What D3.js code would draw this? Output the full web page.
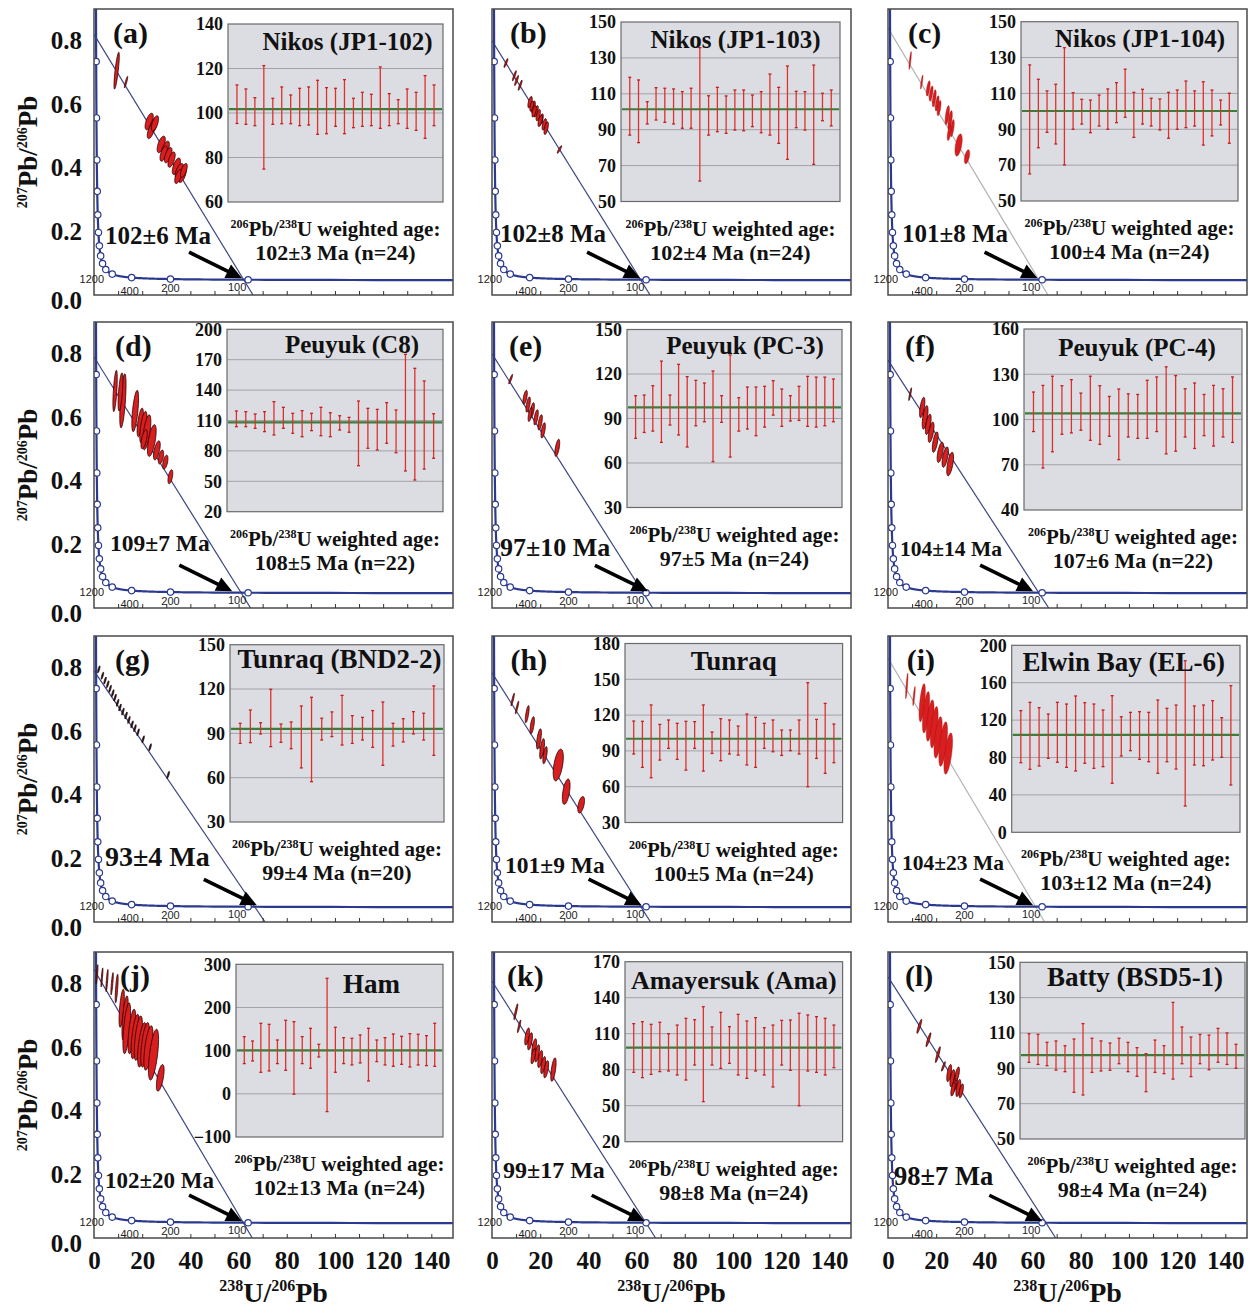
<!DOCTYPE html>
<html><head><meta charset="utf-8">
<script src="https://cdn.jsdelivr.net/npm/d3@7/dist/d3.min.js"></script>
<style>body{margin:0;background:#fff}</style>
</head><body>
<svg id="c" width="1252" height="1315" xmlns="http://www.w3.org/2000/svg"></svg>
<script>
// ---------------- DATA ----------------
const panelLetters = ["(a)","(b)","(c)","(d)","(e)","(f)","(g)","(h)","(i)","(j)","(k)","(l)"];
const sampleNames = ["Nikos (JP1-102)","Nikos (JP1-103)","Nikos (JP1-104)","Peuyuk (C8)","Peuyuk (PC-3)","Peuyuk (PC-4)",
  "Tunraq (BND2-2)","Tunraq","Elwin Bay (EL-6)","Ham","Amayersuk (Ama)","Batty (BSD5-1)"];
const interceptLabels = ["102±6 Ma","102±8 Ma","101±8 Ma","109±7 Ma","97±10 Ma","104±14 Ma","93±4 Ma","101±9 Ma","104±23 Ma","102±20 Ma","99±17 Ma","98±7 Ma"];
const interceptAges = [102,102,101,109,97,104,93,101,104,102,99,98];
const weightedLabels = ["102±3 Ma (n=24)","102±4 Ma (n=24)","100±4 Ma (n=24)","108±5 Ma (n=22)","97±5 Ma (n=24)","107±6 Ma (n=22)",
  "99±4 Ma (n=20)","100±5 Ma (n=24)","103±12 Ma (n=24)","102±13 Ma (n=24)","98±8 Ma (n=24)","98±4 Ma (n=24)"];
const weightedMeans = [101.7,101.4,100.2,108.2,97.5,104.1,93.0,100.2,104.1,100.8,98.4,97.5];
// discordia: 207Pb/206Pb at 238U/206Pb = 0, and 238U/206Pb where it reaches 0
const discordiaY0 = [0.82,0.80,0.84,0.79,0.80,0.78,0.79,0.784,0.83,0.845,0.808,0.822];
const discordiaXEnd = [66,65.6,66.4,65,66.7,66.7,71,65.8,65,65.7,67.9,69.6];

const xTicks = [0,20,40,60,80,100,120,140];
const xMinorTicks = [10,20,30,40,50,60,70,80,90,100,110,120,130,140];
const yTicks = [0,0.2,0.4,0.6,0.8];
const concordiaAgesMa = [100,200,400,800,1200,1600,2000,2400,2800,3200,3600,4000,4400,4800];
const concordiaLabelAges = [1200,400,200,100];

const insetTicksA = [60,80,100,120,140];
const insetTicksB = [50,70,90,110,130,150];
const insetTicksC = [50,70,90,110,130,150];
const insetTicksD = [20,50,80,110,140,170,200];
const insetTicksE = [30,60,90,120,150];
const insetTicksF = [40,70,100,130,160];
const insetTicksG = [30,60,90,120,150];
const insetTicksH = [30,60,90,120,150,180];
const insetTicksI = [0,40,80,120,160,200];
const insetTicksJ = [-100,0,100,200,300];
const insetTicksK = [20,50,80,110,140,170];
const insetTicksL = [50,70,90,110,130,150];

// 206Pb/238U ages: [low, high] (Ma)
const barsA = [[95.3,112.6],[94.9,110.8],[94.3,106.9],[74.8,121.3],[94.9,106.6],[95.2,111.7],[95.2,108.1],[94.3,111.1],[94.6,111.7],[90.4,114.7],[90.7,111.4],[94.0,111.1],[90.7,115.0],[93.4,106.6],[94.0,109.3],[94.3,108.4],[93.1,120.7],[94.3,108.7],[95.2,106.0],[93.1,110.8],[92.2,109.3],[88.6,116.8],[94.3,112.6]];
const barsB = [[87.0,119.2],[82.8,117.7],[93.2,105.6],[95.4,113.4],[94.1,113.1],[93.2,112.7],[90.8,111.2],[90.8,113.1],[61.4,135.7],[87.0,108.9],[88.9,113.6],[88.0,108.8],[89.8,112.1],[89.4,112.1],[91.7,109.3],[88.3,111.2],[87.0,121.0],[82.4,113.6],[73.5,125.5],[91.1,111.4],[89.8,111.2],[70.7,126.0],[95.0,110.3],[92.1,112.1]];
const barsC = [[65.1,125.9],[79.7,117.9],[88.3,111.4],[81.8,115.1],[70.1,135.5],[90.0,110.4],[92.9,106.7],[88.1,106.3],[91.8,109.1],[90.0,112.5],[93.7,116.0],[96.7,123.5],[85.5,110.6],[92.9,112.3],[91.8,107.3],[89.6,106.9],[85.0,110.6],[90.0,111.9],[90.9,116.9],[91.8,111.4],[81.2,116.5],[86.3,111.9],[92.4,106.3],[82.2,110.1]];
const barsD = [[103.9,119.4],[103.9,118.7],[102.3,116.4],[99.0,118.7],[95.7,128.6],[102.3,123.0],[97.4,117.1],[94.0,119.7],[100.0,117.1],[95.0,123.0],[94.0,117.7],[100.6,114.7],[98.4,113.1],[65.4,129.2],[82.6,122.0],[80.9,121.0],[87.5,127.6],[78.2,120.4],[60.2,175.3],[51.3,161.5],[62.1,149.0],[72.7,116.7]];
const barsE = [[76.6,105.4],[80.6,105.8],[81.5,112.1],[73.9,128.7],[85.6,105.8],[78.9,126.5],[70.8,118.2],[85.1,115.7],[87.8,113.9],[60.9,122.0],[87.4,105.4],[64.0,132.8],[81.5,104.0],[82.9,111.2],[78.4,111.2],[84.2,111.7],[92.3,115.5],[84.7,109.9],[88.3,105.4],[88.7,111.7],[84.7,118.4],[84.2,117.9],[85.1,117.9],[87.8,116.6]];
const barsF = [[92.0,118.2],[67.8,122.6],[78.6,128.7],[90.2,122.4],[91.1,126.4],[92.9,117.5],[86.2,128.7],[83.5,122.4],[88.9,115.3],[73.4,120.2],[88.4,117.0],[87.5,116.6],[87.5,126.0],[92.0,128.2],[77.2,134.9],[79.0,129.1],[88.4,120.4],[80.8,124.2],[89.3,116.6],[82.4,122.6],[88.4,120.4],[84.8,128.2]];
const barsG = [[83.2,96.8],[83.7,105.8],[89.6,97.2],[81.0,119.8],[83.9,96.3],[79.6,97.7],[66.6,108.5],[57.3,114.4],[85.5,100.2],[87.8,104.5],[82.1,115.7],[83.2,102.0],[85.5,100.8],[80.5,105.4],[68.4,111.2],[81.4,96.8],[84.2,99.9],[89.6,104.7],[85.5,103.6],[75.1,122.1]];
const barsH = [[87.4,115.0],[76.2,114.8],[67.5,128.5],[82.3,112.2],[92.1,115.9],[82.9,113.1],[73.9,114.8],[92.1,114.5],[73.1,128.5],[87.9,105.8],[81.8,117.0],[87.4,115.9],[86.5,110.8],[78.2,120.9],[76.2,118.1],[92.1,113.1],[89.3,115.9],[86.2,107.5],[90.2,107.5],[87.4,115.9],[60.0,147.2],[83.7,116.4],[71.2,129.8],[80.1,112.5]];
const barsI = [[74.4,130.1],[67.4,139.0],[70.9,133.3],[79.1,126.5],[74.9,139.0],[69.5,137.2],[65.6,145.8],[73.8,138.6],[68.4,137.2],[70.2,130.8],[52.4,146.1],[81.6,123.6],[87.3,128.3],[78.1,129.0],[75.5,128.3],[63.1,141.5],[75.5,132.6],[67.7,136.1],[28.1,183.5],[72.0,135.1],[71.2,136.1],[77.3,140.8],[80.2,122.6],[50.6,156.8]];
const barsJ = [[70.0,132.5],[76.1,122.4],[49.9,163.3],[53.0,161.0],[70.0,124.7],[54.5,170.3],[-1.0,167.2],[70.0,132.5],[59.2,151.7],[85.4,114.7],[-41.2,267.5],[49.9,154.1],[70.0,130.1],[66.9,128.6],[71.5,136.3],[29.8,151.7],[74.6,124.7],[66.9,130.1],[63.8,138.6],[68.4,133.2],[62.2,139.4],[66.9,137.9],[65.3,134.8],[63.8,163.3]];
const barsK = [[77.8,118.4],[73.4,120.0],[76.1,117.8],[78.4,119.5],[78.9,110.0],[75.6,117.2],[71.4,122.8],[83.9,121.7],[53.4,132.5],[83.9,115.6],[81.1,127.8],[85.3,115.9],[75.6,126.1],[72.8,120.6],[78.9,123.4],[75.6,115.0],[65.6,117.2],[83.9,121.1],[79.5,121.4],[50.0,127.0],[78.9,125.6],[77.8,124.2],[75.6,122.8],[81.7,117.2]];
const barsL = [[93.4,109.6],[92.2,109.2],[91.5,104.7],[89.0,105.5],[88.1,102.8],[76.4,106.6],[74.9,115.3],[87.7,107.0],[88.5,105.5],[88.9,104.3],[92.6,107.0],[88.1,104.7],[85.5,101.7],[76.8,98.3],[87.7,106.0],[87.0,102.8],[83.9,127.3],[92.6,113.4],[85.3,107.7],[92.6,109.2],[89.2,108.8],[93.4,112.6],[92.2,110.0],[90.0,103.6]];

// error ellipses: [238U/206Pb, 207Pb/206Pb, err x, err y, rho]
const ellA = [[9.4,0.706,1.1,0.058,0.8],[13.3,0.67,0.7,0.018,0.9],[22.9,0.546,1.7,0.026,0.6],[24.6,0.532,1.7,0.026,0.6],[23.6,0.516,1.5,0.024,0.6],[25.3,0.540,1.5,0.024,0.6],[27.9,0.474,1.7,0.026,0.6],[29.6,0.458,1.7,0.026,0.6],[28.9,0.445,1.5,0.024,0.6],[30.8,0.440,1.6,0.024,0.6],[32.2,0.426,1.5,0.024,0.6],[34.2,0.405,1.7,0.026,0.6],[35.4,0.390,1.7,0.024,0.6],[36.7,0.378,1.6,0.024,0.6],[35.0,0.373,1.5,0.022,0.6],[37.3,0.392,1.4,0.022,0.6]];
const ellB = [[5.8,0.73,0.8,0.014,0.9],[9.3,0.69,0.8,0.016,0.9],[10.2,0.675,0.8,0.016,0.9],[11.7,0.66,0.8,0.016,0.9],[15.8,0.607,0.9,0.018,0.6],[17.1,0.592,0.9,0.018,0.6],[18.3,0.578,0.9,0.018,0.6],[19.2,0.566,0.9,0.018,0.6],[20.4,0.552,0.9,0.018,0.6],[21.7,0.537,0.9,0.018,0.6],[22.5,0.525,0.9,0.02,0.6],[17.5,0.578,0.9,0.018,0.6],[20.0,0.548,0.9,0.018,0.6],[16.5,0.595,0.8,0.016,0.6],[28.0,0.458,0.9,0.012,0.9]];
const ellC = [[9.2,0.738,0.5,0.028,0.8],[14.0,0.67,0.5,0.022,0.8],[16.7,0.65,0.8,0.024,0.6],[17.9,0.634,0.8,0.024,0.6],[19.2,0.619,0.8,0.027,0.6],[20.4,0.603,0.8,0.024,0.6],[21.2,0.588,0.8,0.024,0.6],[24.6,0.566,0.9,0.03,0.6],[25.8,0.55,0.9,0.03,0.6],[26.7,0.525,0.8,0.027,0.6],[25.4,0.51,0.8,0.024,0.6],[29.3,0.472,1.5,0.035,0.5],[32.8,0.435,1.1,0.022,0.5]];
const ellD = [[8.75,0.683,0.9,0.065,0.6],[12.0,0.652,1.3,0.085,0.6],[11.0,0.68,1.0,0.06,0.6],[17.1,0.62,1.4,0.065,0.6],[19.2,0.584,1.3,0.045,0.6],[20.5,0.569,1.5,0.05,0.6],[21.9,0.553,1.7,0.055,0.6],[20.8,0.531,1.3,0.03,0.6],[24.0,0.527,1.8,0.05,0.6],[26.1,0.496,1.4,0.03,0.6],[27.8,0.475,1.1,0.022,0.5],[29.6,0.459,1.1,0.022,0.5],[31.7,0.413,1.0,0.022,0.5]];
const ellE = [[7.75,0.72,0.8,0.015,0.9],[13.75,0.663,0.9,0.022,0.6],[15.0,0.64,0.9,0.024,0.6],[16.7,0.622,0.9,0.024,0.6],[18.3,0.60,0.9,0.024,0.6],[20.0,0.584,0.9,0.024,0.6],[21.25,0.559,0.9,0.024,0.6],[15.8,0.609,0.8,0.022,0.6],[27.1,0.504,1.0,0.027,0.6]];
const ellF = [[9.2,0.673,0.6,0.02,0.9],[14.2,0.631,1.1,0.032,0.6],[15.4,0.60,1.2,0.037,0.6],[16.7,0.578,1.2,0.032,0.6],[17.9,0.553,1.2,0.032,0.6],[19.6,0.522,1.2,0.032,0.6],[21.7,0.49,1.3,0.032,0.6],[23.75,0.475,1.3,0.032,0.6],[25.8,0.453,1.4,0.037,0.6]];
const ellG = [[2.0,0.795,0.5,0.011,0.8],[3.5,0.775,0.5,0.011,0.8],[4.6,0.76,0.5,0.011,0.8],[5.7,0.748,0.5,0.011,0.8],[6.7,0.734,0.5,0.011,0.8],[7.8,0.72,0.5,0.011,0.8],[8.75,0.706,0.5,0.011,0.8],[9.8,0.69,0.5,0.011,0.8],[10.8,0.675,0.5,0.011,0.8],[12.0,0.662,0.5,0.011,0.8],[13.3,0.65,0.5,0.011,0.8],[14.5,0.636,0.5,0.011,0.8],[15.8,0.622,0.5,0.011,0.8],[17.0,0.61,0.5,0.011,0.8],[18.3,0.597,0.5,0.011,0.8],[20.4,0.575,0.5,0.011,0.8],[23.3,0.55,0.5,0.011,0.8],[30.8,0.463,0.5,0.011,0.8]];
const ellH = [[8.6,0.70,0.7,0.02,0.9],[10.4,0.675,0.7,0.02,0.9],[14.6,0.654,0.8,0.027,0.7],[16.7,0.619,0.9,0.027,0.6],[19.5,0.576,1.0,0.032,0.6],[20.8,0.545,1.0,0.032,0.6],[22.0,0.525,0.9,0.027,0.6],[27.5,0.494,2.1,0.05,0.5],[30.8,0.41,1.6,0.04,0.5],[37.0,0.369,1.4,0.026,0.5]];
const ellI = [[7.8,0.743,0.5,0.04,0.8],[10.8,0.711,0.5,0.03,0.8],[14.2,0.69,1.3,0.06,0.6],[15.8,0.66,1.5,0.065,0.6],[17.5,0.634,1.6,0.065,0.6],[19.2,0.613,1.6,0.065,0.6],[20.8,0.581,1.7,0.065,0.6],[22.9,0.56,1.8,0.07,0.6],[25.0,0.53,1.8,0.065,0.6]];
const ellJ = [[1.25,0.83,0.4,0.03,0.8],[3.3,0.82,0.4,0.03,0.8],[5.4,0.81,0.45,0.035,0.8],[7.5,0.80,0.5,0.035,0.8],[9.4,0.785,0.6,0.045,0.7],[11.5,0.723,1.1,0.06,0.6],[12.9,0.692,1.3,0.07,0.6],[13.6,0.66,1.6,0.08,0.6],[15.7,0.65,1.6,0.07,0.6],[17.1,0.634,1.7,0.07,0.6],[18.4,0.629,1.7,0.07,0.6],[19.9,0.608,1.8,0.07,0.6],[21.2,0.608,1.8,0.07,0.6],[22.6,0.598,1.9,0.07,0.6],[24.7,0.577,2.1,0.08,0.6],[27.5,0.504,1.6,0.042,0.6]];
const ellK = [[9.9,0.712,0.8,0.025,0.9],[11.25,0.666,0.7,0.02,0.9],[14.6,0.634,1.0,0.027,0.6],[15.8,0.619,1.0,0.027,0.6],[17.5,0.60,1.0,0.027,0.6],[18.75,0.581,1.0,0.027,0.6],[20.0,0.563,1.0,0.027,0.6],[21.25,0.544,1.0,0.027,0.6],[22.5,0.531,1.0,0.027,0.6],[17.1,0.572,0.9,0.024,0.6],[25.5,0.53,1.1,0.037,0.6]];
const ellL = [[13.0,0.666,1.0,0.022,0.9],[16.8,0.624,1.0,0.022,0.9],[20.7,0.577,1.0,0.025,0.9],[23.0,0.54,0.8,0.015,0.9],[25.4,0.519,1.0,0.027,0.6],[26.7,0.503,1.0,0.027,0.6],[27.9,0.488,1.0,0.027,0.6],[29.2,0.472,1.0,0.027,0.6],[30.4,0.463,0.9,0.022,0.6],[27.0,0.469,0.9,0.022,0.6],[28.75,0.516,0.9,0.022,0.6]];

// decay constants (per Ma) and 238U/235U for the Tera-Wasserburg concordia
const LAMBDA238 = 1.55125e-4, LAMBDA235 = 9.8485e-4, U238_U235 = 137.88;

// ---------------- LAYOUT ----------------
const barSets = [barsA,barsB,barsC,barsD,barsE,barsF,barsG,barsH,barsI,barsJ,barsK,barsL];
const tickSets = [insetTicksA,insetTicksB,insetTicksC,insetTicksD,insetTicksE,insetTicksF,insetTicksG,insetTicksH,insetTicksI,insetTicksJ,insetTicksK,insetTicksL];
const ellSets = [ellA,ellB,ellC,ellD,ellE,ellF,ellG,ellH,ellI,ellJ,ellK,ellL];

const colLeft = [94,492,888], rowTop = [9,322,636,952], PW = 359, PH = 286;
const insetBoxes = [[134,15,215,178],[129,13,219,179.5],[133,12.7,217,179.3],[133,7.3,216,182.4],[135,7.5,215,178],[136,7,218,181],
  [136,8.7,214,177.3],[133,7.5,217.6,179],[123.7,9.3,228.3,187],[142,12.3,207,172.7],[133,9.7,217.6,180],[132,10.3,225,176.7]];
const titleDx = [12,5,10.5,17,10.5,4,2.5,0,-2,32,0,2.5];
const titleDy = [26,26,25,24,24,27,23,26.5,26,29,27,24];
const titleSize = [25,25,25,25,25,25,27,27,27,27,26,27];
const ageDx = [11,8,14,16,8,12,11,13,14,11,11,6];
const ageDy = [-51,-53,-53,-57,-52,-52,-56,-49,-52,-50,-60,-53];
const ageSize = [25,25,25,23.5,26,21.5,28,23.5,21.5,23,24,26.5];
const letterDx = [19,18,20,21,17,17,21,18.6,18.7,26,15,17];
const greyDiscordia = [2,8];
const darkEllipses = [6];
const concLabelOffset = {1200:[-14,13],400:[-2,17],200:[0,13],100:[-11,11]};

const serif = "'Liberation Serif','Times New Roman',serif";
const BLUE = "#2b3a8f";

function tw(t){ const e8 = Math.exp(LAMBDA238*t)-1, e5 = Math.exp(LAMBDA235*t)-1; return [1/e8, e5/e8/U238_U235]; }
const concordiaCurve = d3.range(30,5400,5).map(tw);

const svg = d3.select("#c");
svg.append("rect").attr("width",1252).attr("height",1315).attr("fill","#fff");

barSets.forEach((bars,i)=>{
  const col = i%3, row = Math.floor(i/3);
  const g = svg.append("g").attr("transform",`translate(${colLeft[col]},${rowTop[row]})`);
  const x = d3.scaleLinear().domain([0,149]).range([0,PW]);
  const y = d3.scaleLinear().domain([0,0.9]).range([PH,0]);

  g.append("clipPath").attr("id","clip"+i).append("rect").attr("width",PW).attr("height",PH);
  const plot = g.append("g").attr("clip-path",`url(#clip${i})`);

  // discordia
  plot.append("line")
    .attr("x1",x(0)).attr("y1",y(discordiaY0[i]))
    .attr("x2",x(discordiaXEnd[i])).attr("y2",y(0))
    .attr("stroke", greyDiscordia.includes(i) ? "#b4b4b4" : "#3d4684")
    .attr("stroke-width",1.2);

  // concordia
  plot.append("path").datum(concordiaCurve)
    .attr("d", d3.line().x(d=>x(d[0])).y(d=>y(d[1])))
    .attr("fill","none").attr("stroke",BLUE).attr("stroke-width",2.2);

  // ellipses
  const ellLine = d3.line().x(d=>x(d[0])).y(d=>y(d[1])).curve(d3.curveLinearClosed);
  const angles = d3.range(0, 2*Math.PI, Math.PI/24);
  const dark = darkEllipses.includes(i), grey = greyDiscordia.includes(i);
  plot.selectAll(".ell").data(ellSets[i]).join("path")
    .attr("d", e => ellLine(angles.map(t => [e[0] + e[2]*Math.cos(t),
       e[1] + e[3]*(e[4]*Math.cos(t) + Math.sqrt(1-e[4]*e[4])*Math.sin(t))])))
    .attr("fill", dark ? "#5a0c0c" : "#d81e1e")
    .attr("stroke", grey ? "#9a1010" : (dark ? "#000" : "#2a0000"))
    .attr("stroke-width", grey ? 0.4 : 0.8);

  // concordia age circles
  plot.selectAll(".cc").data(concordiaAgesMa).join("circle")
    .attr("cx", a => x(tw(a)[0])).attr("cy", a => y(tw(a)[1])).attr("r",3.2)
    .attr("fill","#fff").attr("stroke",BLUE).attr("stroke-width",1.2);

  // frame
  g.append("rect").attr("width",PW).attr("height",PH).attr("fill","none").attr("stroke","#4a4a4a").attr("stroke-width",1.5);
  // minor ticks
  const mt = g.append("g").attr("transform",`translate(0,${PH})`)
    .call(d3.axisBottom(x).tickValues(xMinorTicks).tickSize(-4).tickFormat(""));
  mt.select(".domain").remove();
  mt.selectAll("line").attr("stroke","#333");

  // concordia labels
  g.selectAll(".cl").data(concordiaLabelAges).join("text")
    .attr("x", a => x(tw(a)[0]) + concLabelOffset[a][0])
    .attr("y", a => y(tw(a)[1]) + concLabelOffset[a][1])
    .attr("text-anchor","middle").attr("font-family","'Liberation Sans',Arial,sans-serif")
    .attr("font-size",11).attr("fill","#222").text(a => a);

  // arrow
  const tp = tw(interceptAges[i]);
  const tip = [x(tp[0]) - 3, y(tp[1]) - 1.5];
  const tail = [tip[0] - 53, tip[1] - 26];
  const dx = tip[0]-tail[0], dy = tip[1]-tail[1], L = Math.hypot(dx,dy);
  const ux = dx/L, uy = dy/L, nx = -uy, ny = ux;
  const base = [tip[0]-ux*16, tip[1]-uy*16];
  g.append("line").attr("x1",tail[0]).attr("y1",tail[1]).attr("x2",base[0]+ux*2).attr("y2",base[1]+uy*2)
    .attr("stroke","#000").attr("stroke-width",3.6);
  g.append("path").attr("d",`M${tip[0]},${tip[1]}L${base[0]+nx*7.5},${base[1]+ny*7.5}L${base[0]-nx*7.5},${base[1]-ny*7.5}Z`).attr("fill","#000");

  // intercept age label
  g.append("text").attr("x",ageDx[i]).attr("y",PH+ageDy[i])
    .attr("font-family",serif).attr("font-weight","bold").attr("font-size",ageSize[i]).attr("fill","#111")
    .text(interceptLabels[i]);

  // panel letter
  g.append("text").attr("x",letterDx[i]).attr("y",34)
    .attr("font-family",serif).attr("font-weight","bold").attr("font-size",30).attr("fill","#111")
    .text(panelLetters[i]);

  // ---------- inset ----------
  const [bx,by,bw,bh] = insetBoxes[i];
  const ticks = tickSets[i];
  const ig = g.append("g").attr("transform",`translate(${bx},${by})`);
  const yi = d3.scaleLinear().domain(d3.extent(ticks)).range([bh,0]);
  const xi = d3.scalePoint().domain(d3.range(bars.length)).range([0,bw]).padding(1);
  ig.append("rect").attr("width",bw).attr("height",bh).attr("fill","#dcdde3");
  ig.selectAll(".gl").data(ticks.slice(1,-1)).join("line")
    .attr("x1",0).attr("x2",bw).attr("y1",d=>yi(d)).attr("y2",d=>yi(d))
    .attr("stroke","#a2a2a6").attr("stroke-width",1);
  ig.append("line").attr("x1",1).attr("x2",bw-1).attr("y1",yi(weightedMeans[i])).attr("y2",yi(weightedMeans[i]))
    .attr("stroke","#3b7d3b").attr("stroke-width",2.2);
  const bg = ig.selectAll(".bar").data(bars).join("g");
  bg.append("line").attr("x1",(d,j)=>xi(j)).attr("x2",(d,j)=>xi(j))
    .attr("y1",d=>yi(d[0])).attr("y2",d=>yi(d[1])).attr("stroke","#e0302c").attr("stroke-width",1.3);
  bg.append("line").attr("x1",(d,j)=>xi(j)-1.5).attr("x2",(d,j)=>xi(j)+1.5)
    .attr("y1",d=>yi(d[0])).attr("y2",d=>yi(d[0])).attr("stroke","#c02020").attr("stroke-width",1.3);
  bg.append("line").attr("x1",(d,j)=>xi(j)-1.5).attr("x2",(d,j)=>xi(j)+1.5)
    .attr("y1",d=>yi(d[1])).attr("y2",d=>yi(d[1])).attr("stroke","#c02020").attr("stroke-width",1.3);
  ig.append("rect").attr("width",bw).attr("height",bh).attr("fill","none").attr("stroke","#6a6a6a").attr("stroke-width",1.2);
  const ia = ig.append("g").call(d3.axisLeft(yi).tickValues(ticks).tickSize(0).tickPadding(5));
  ia.select(".domain").remove();
  ia.selectAll("text").attr("font-family",serif).attr("font-weight","bold").attr("font-size",18).attr("fill","#111");
  ig.append("text").attr("x",bw/2+titleDx[i]).attr("y",titleDy[i]).attr("text-anchor","middle")
    .attr("font-family",serif).attr("font-weight","bold").attr("font-size",titleSize[i]).attr("fill","#111")
    .text(sampleNames[i]);

  // caption
  const cap = g.append("text").attr("x",bx+bw/2).attr("y",by+bh+34).attr("text-anchor","middle")
    .attr("font-family",serif).attr("font-weight","bold").attr("fill","#111");
  cap.append("tspan").attr("font-size",12).attr("dy",-8).text("206");
  cap.append("tspan").attr("font-size",21).attr("dy",8).text("Pb/");
  cap.append("tspan").attr("font-size",12).attr("dy",-8).text("238");
  cap.append("tspan").attr("font-size",21).attr("dy",8).text("U weighted age:");
  g.append("text").attr("x",bx+bw/2).attr("y",by+bh+58).attr("text-anchor","middle")
    .attr("font-family",serif).attr("font-weight","bold").attr("font-size",22).attr("fill","#111")
    .text(weightedLabels[i]);

  // y tick labels (first column)
  if(col===0){
    const ya = g.append("g").call(d3.axisLeft(y).tickValues(yTicks).tickFormat(d3.format(".1f")).tickSize(0).tickPadding(12));
    ya.select(".domain").remove();
    ya.selectAll("text").attr("font-family",serif).attr("font-weight","bold").attr("font-size",25).attr("fill","#111")
      .attr("dy", d => d === 0 ? "0.55em" : "0.32em");
    const yt = g.append("text").attr("transform",`translate(${37-colLeft[0]},${PH/2}) rotate(-90)`)
      .attr("text-anchor","middle").attr("font-family",serif).attr("font-weight","bold").attr("fill","#111");
    yt.append("tspan").attr("font-size",14).attr("dy",-10).text("207");
    yt.append("tspan").attr("font-size",27).attr("dy",10).text("Pb/");
    yt.append("tspan").attr("font-size",14).attr("dy",-10).text("206");
    yt.append("tspan").attr("font-size",27).attr("dy",10).text("Pb");
  }
  // x tick labels + title (last row)
  if(row===3){
    const xa = g.append("g").attr("transform",`translate(0,${PH})`)
      .call(d3.axisBottom(x).tickValues(xTicks).tickSize(0).tickPadding(13));
    xa.select(".domain").remove();
    xa.selectAll("text").attr("font-family",serif).attr("font-weight","bold").attr("font-size",25).attr("fill","#111");
    const xt = g.append("text").attr("x",PW/2).attr("y",PH+64).attr("text-anchor","middle")
      .attr("font-family",serif).attr("font-weight","bold").attr("fill","#111");
    xt.append("tspan").attr("font-size",16).attr("dy",-11).text("238");
    xt.append("tspan").attr("font-size",28).attr("dy",11).text("U/");
    xt.append("tspan").attr("font-size",16).attr("dy",-11).text("206");
    xt.append("tspan").attr("font-size",28).attr("dy",11).text("Pb");
  }
});
</script>
</body></html>
